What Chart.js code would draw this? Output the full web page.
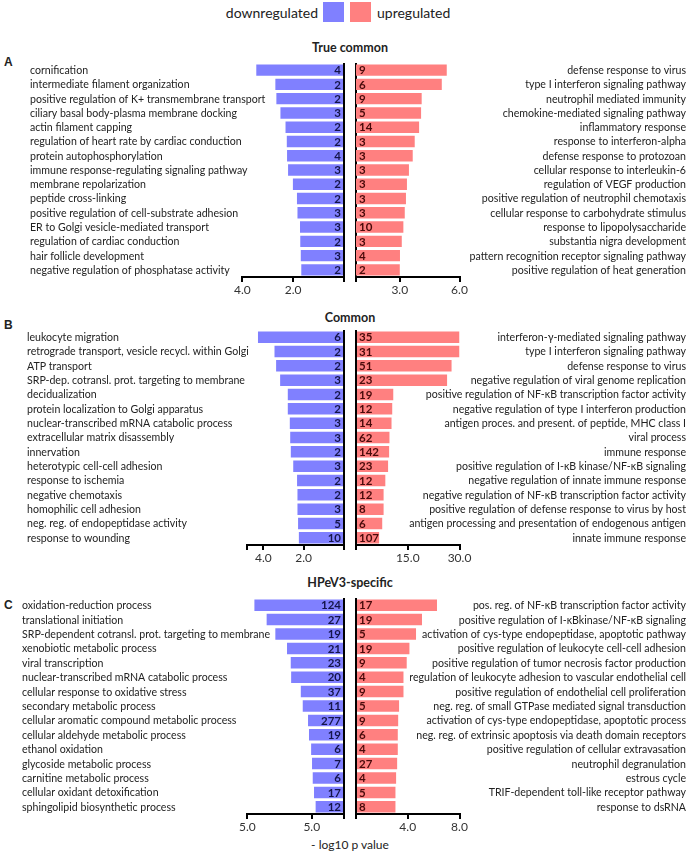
<!DOCTYPE html>
<html>
<head>
<meta charset="utf-8">
<script src="https://cdn.jsdelivr.net/npm/chart.js@4"></script>
<style>
  body { margin: 0; background: #fff; }
  #page { position: relative; width: 691px; height: 853px; font-family: Lato, sans-serif; color: #222; }
  #page canvas { position: absolute; }
  .txt { position: absolute; white-space: nowrap; }
  .title { position: absolute; left: 200px; width: 300px; text-align: center; font-weight: bold; font-size: 12.5px; line-height: 16px; }
  .letter { position: absolute; font-family: 'Liberation Sans', Arial, sans-serif; font-weight: bold; font-size: 12px; }
  .box { position: absolute; width: 21px; height: 20px; }
</style>
</head>
<body>
<div id="page">
  <!-- legenda -->
  <div class="txt" style="right:373px; top:4px; font-size:14px;">downregulated</div>
  <div class="box" style="left:323px; top:2px; background:#8080ff;"></div>
  <div class="box" style="left:350px; top:2px; background:#ff8080;"></div>
  <div class="txt" style="left:377px; top:4px; font-size:14px;">upregulated</div>

  <div class="title" style="top:40px;">True common</div>
  <div class="title" style="top:310px;">Common</div>
  <div class="title" style="top:575px;">HPeV3-specific</div>

  <div class="letter" style="left:4px; top:55px;">A</div>
  <div class="letter" style="left:4px; top:318px;">B</div>
  <div class="letter" style="left:4px; top:598px;">C</div>

  <div class="txt" style="left:250px; width:200px; text-align:center; top:837px; font-size:12px;">- log10 p value</div>

  <canvas id="leftA" width="346" height="240" style="left:0; top:59px;"></canvas>
  <canvas id="rightA" width="339" height="240" style="left:352px; top:59px;"></canvas>
  <canvas id="leftB" width="346" height="241" style="left:0; top:326px;"></canvas>
  <canvas id="rightB" width="339" height="241" style="left:352px; top:326px;"></canvas>
  <canvas id="leftC" width="346" height="242" style="left:0; top:594px;"></canvas>
  <canvas id="rightC" width="339" height="242" style="left:352px; top:594px;"></canvas>
</div>

<script>
// ----------------------------- Painel A: True common -----------------------------
const termsDownA = ['cornification', 'intermediate filament organization', 'positive regulation of K+ transmembrane transport',
  'ciliary basal body-plasma membrane docking', 'actin filament capping', 'regulation of heart rate by cardiac conduction',
  'protein autophosphorylation', 'immune response-regulating signaling pathway', 'membrane repolarization',
  'peptide cross-linking', 'positive regulation of cell-substrate adhesion', 'ER to Golgi vesicle-mediated transport',
  'regulation of cardiac conduction', 'hair follicle development', 'negative regulation of phosphatase activity']
const valuesDownA = [3.45, 2.70, 2.66, 2.50, 2.30, 2.25, 2.24, 2.20, 2.01, 1.85, 1.83, 1.73, 1.72, 1.70, 1.68]
const countsDownA = [4, 2, 2, 3, 2, 2, 4, 3, 2, 2, 3, 3, 2, 3, 2]

const termsUpA = ['defense response to virus', 'type I interferon signaling pathway', 'neutrophil mediated immunity',
  'chemokine-mediated signaling pathway', 'inflammatory response', 'response to interferon-alpha',
  'defense response to protozoan', 'cellular response to interleukin-6', 'regulation of VEGF production',
  'positive regulation of neutrophil chemotaxis', 'cellular response to carbohydrate stimulus',
  'response to lipopolysaccharide', 'substantia nigra development', 'pattern recognition receptor signaling pathway',
  'positive regulation of heat generation']
const valuesUpA = [5.36, 5.11, 4.10, 4.07, 3.97, 3.75, 3.65, 3.46, 3.36, 3.31, 3.25, 3.18, 3.10, 3.01, 3.00]
const countsUpA = [9, 6, 9, 5, 14, 3, 3, 3, 3, 3, 3, 10, 3, 4, 2]

// ticks do eixo X
const ticksDownA = [0, 2, 4]
const tickLabelsDownA = ['', '2.0', '4.0']
const ticksUpA = [0.8, 3, 6]
const tickLabelsUpA = ['', '3.0', '6.0']

// ----------------------------- Painel B: Common -----------------------------
const termsDownB = ['leukocyte migration', 'retrograde transport, vesicle recycl. within Golgi', 'ATP transport',
  'SRP-dep. cotransl. prot. targeting to membrane', 'decidualization', 'protein localization to Golgi apparatus',
  'nuclear-transcribed mRNA catabolic process', 'extracellular matrix disassembly', 'innervation',
  'heterotypic cell-cell adhesion', 'response to ischemia', 'negative chemotaxis', 'homophilic cell adhesion',
  'neg. reg. of endopeptidase activity', 'response to wounding']
const valuesDownB = [4.27, 3.45, 3.37, 3.17, 2.79, 2.79, 2.69, 2.67, 2.64, 2.52, 2.33, 2.31, 2.31, 2.28, 2.24]
const countsDownB = [6, 2, 2, 3, 2, 2, 3, 3, 2, 3, 2, 2, 3, 5, 10]

const termsUpB = ['interferon-γ-mediated signaling pathway', 'type I interferon signaling pathway', 'defense response to virus',
  'negative regulation of viral genome replication', 'positive regulation of NF-κB transcription factor activity',
  'negative regulation of type I interferon production', 'antigen proces. and present. of peptide, MHC class I',
  'viral process', 'immune response', 'positive regulation of I-κB kinase/NF-κB signaling',
  'negative regulation of innate immune response', 'negative regulation of NF-κB transcription factor activity',
  'positive regulation of defense response to virus by host', 'antigen processing and presentation of endogenous antigen',
  'innate immune response']
const valuesUpB = [30, 30, 27.7, 26.4, 10.8, 10.5, 10.3, 9.7, 9.6, 9.3, 8.5, 8.0, 8.0, 7.6, 6.7]
const countsUpB = [35, 31, 51, 23, 19, 12, 14, 62, 142, 23, 12, 12, 8, 6, 107]

const ticksDownB = [0, 2, 4, 4.8]
const tickLabelsDownB = ['', '2.0', '4.0', '']
const ticksUpB = [0, 15, 30]
const tickLabelsUpB = ['', '15.0', '30.0']

// ----------------------------- Painel C: HPeV3-specific -----------------------------
const termsDownC = ['oxidation-reduction process', 'translational initiation', 'SRP-dependent cotransl. prot. targeting to membrane',
  'xenobiotic metabolic process', 'viral transcription', 'nuclear-transcribed mRNA catabolic process',
  'cellular response to oxidative stress', 'secondary metabolic process', 'cellular aromatic compound metabolic process',
  'cellular aldehyde metabolic process', 'ethanol oxidation', 'glycoside metabolic process', 'carnitine metabolic process',
  'cellular oxidant detoxification', 'sphingolipid biosynthetic process']
const valuesDownC = [13.9, 12.0, 10.65, 8.84, 8.26, 8.2, 6.7, 6.4, 5.58, 5.43, 5.1, 4.96, 4.85, 4.65, 4.4]
const countsDownC = [124, 27, 19, 21, 23, 20, 37, 11, 277, 19, 6, 7, 6, 17, 12]

const termsUpC = ['pos. reg. of NF-κB transcription factor activity', 'positive regulation of I-κBkinase/NF-κB signaling',
  'activation of cys-type endopeptidase, apoptotic pathway', 'positive regulation of leukocyte cell-cell adhesion',
  'positive regulation of tumor necrosis factor production', 'regulation of leukocyte adhesion to vascular endothelial cell',
  'positive regulation of endothelial cell proliferation', 'neg. reg. of small GTPase mediated signal transduction',
  'activation of cys-type endopeptidase, apoptotic process', 'neg. reg. of extrinsic apoptosis via death domain receptors',
  'positive regulation of cellular extravasation', 'neutrophil degranulation', 'estrous cycle',
  'TRIF-dependent toll-like receptor pathway', 'response to dsRNA']
const valuesUpC = [6.26, 5.1, 4.64, 4.13, 3.92, 3.67, 3.67, 3.33, 3.26, 3.23, 3.23, 3.18, 3.1, 3.05, 3.05]
const countsUpC = [17, 19, 5, 19, 9, 4, 9, 5, 9, 6, 4, 27, 4, 5, 8]

const ticksDownC = [0, 5, 15]
const tickLabelsDownC = ['', '5.0', '5.0']
const ticksUpC = [0, 4, 8]
const tickLabelsUpC = ['', '4.0', '8.0']

// cores
const blue = '#8080ff'
const red = '#ff8080'

// nomes dos termos GO (desenhados sem o recorte que o Chart.js faz nos ticks)
const termLabels = {
  id: 'termLabels',
  beforeDatasetsDraw(chart, args, opts) {
    const ctx = chart.ctx
    const yScale = chart.scales.y
    ctx.save()
    ctx.font = '10.6px Lato'
    ctx.fillStyle = '#222'
    ctx.textBaseline = 'middle'
    ctx.textAlign = opts.side === 'left' ? 'left' : 'right'
    const x = opts.side === 'left' ? opts.x : chart.width - 5
    chart.data.labels.forEach((t, i) => ctx.fillText(t, x, yScale.getPixelForTick(i) + 0.5))
    ctx.restore()
  }
}

// escreve o número de genes dentro de cada barra
const countLabels = {
  id: 'countLabels',
  afterDatasetsDraw(chart, args, opts) {
    const ctx = chart.ctx
    const area = chart.chartArea
    ctx.save()
    ctx.font = 'bold 11.5px Lato'
    ctx.fillStyle = opts.color
    ctx.textBaseline = 'middle'
    chart.getDatasetMeta(0).data.forEach((bar, i) => {
      if (opts.side === 'left') {
        ctx.textAlign = 'right'
        ctx.fillText(opts.counts[i], area.right - 3, bar.y + 0.5)
      } else {
        ctx.textAlign = 'left'
        ctx.fillText(opts.counts[i], area.left + 3, bar.y + 0.5)
      }
    })
    ctx.restore()
  }
}

// monta um lado (esquerdo = down, direito = up) de um painel
function makeSide(id, side, terms, values, counts, tickVals, tickLabels, labelX) {
  const isLeft = side === 'left'
  const lo = tickVals[0]
  const hi = tickVals[tickVals.length - 1]
  // largura do eixo Y para que a área das barras comece onde começa na figura
  const yWidth = isLeft ? (hi === 4 ? 242.3 : 247.3) - labelX : 228.5

  return new Chart(document.getElementById(id), {
    type: 'bar',
    data: {
      labels: terms,
      datasets: [{
        data: values,
        backgroundColor: isLeft ? blue : red,
        borderWidth: 0,
        barPercentage: 0.8,
        categoryPercentage: 1
      }]
    },
    options: {
      indexAxis: 'y',
      responsive: false,
      animation: false,
      layout: { padding: isLeft ? { left: labelX, right: 2, top: 4, bottom: 0 } : { left: 4, right: 3, top: 4, bottom: 0 } },
      plugins: {
        legend: { display: false },
        tooltip: { enabled: false },
        termLabels: { side: side, x: labelX },
        countLabels: { side: side, counts: counts, color: isLeft ? '#14144a' : '#4a0a0a' }
      },
      scales: {
        x: {
          type: 'linear',
          reverse: isLeft,
          min: lo,
          max: hi,
          z: 1,
          afterBuildTicks: s => { s.ticks = tickVals.map(v => ({ value: v })) },
          afterFit: s => { s.height = 22 },
          ticks: {
            autoSkip: false,
            maxRotation: 0,
            padding: 1,
            color: '#333',
            font: { family: 'Lato', size: 12 },
            callback: (v, i) => tickLabels[i]
          },
          grid: {
            color: c => (c.tick && c.tick.value === lo) ? '#000' : 'rgba(0,0,0,0)',
            lineWidth: 2,
            tickColor: '#000',
            tickWidth: 2,
            tickLength: 5
          },
          border: { color: '#000', width: 2 }
        },
        y: {
          position: isLeft ? 'left' : 'right',
          afterFit: s => { s.width = yWidth },
          ticks: { display: false, autoSkip: false },
          grid: { display: false },
          border: { display: false }
        }
      }
    },
    plugins: [termLabels, countLabels]
  })
}

makeSide('leftA', 'left', termsDownA, valuesDownA, countsDownA, ticksDownA, tickLabelsDownA, 30)
makeSide('rightA', 'right', termsUpA, valuesUpA, countsUpA, ticksUpA, tickLabelsUpA)
makeSide('leftB', 'left', termsDownB, valuesDownB, countsDownB, ticksDownB, tickLabelsDownB, 27)
makeSide('rightB', 'right', termsUpB, valuesUpB, countsUpB, ticksUpB, tickLabelsUpB)
makeSide('leftC', 'left', termsDownC, valuesDownC, countsDownC, ticksDownC, tickLabelsDownC, 22)
makeSide('rightC', 'right', termsUpC, valuesUpC, countsUpC, ticksUpC, tickLabelsUpC)
</script>
</body>
</html>
